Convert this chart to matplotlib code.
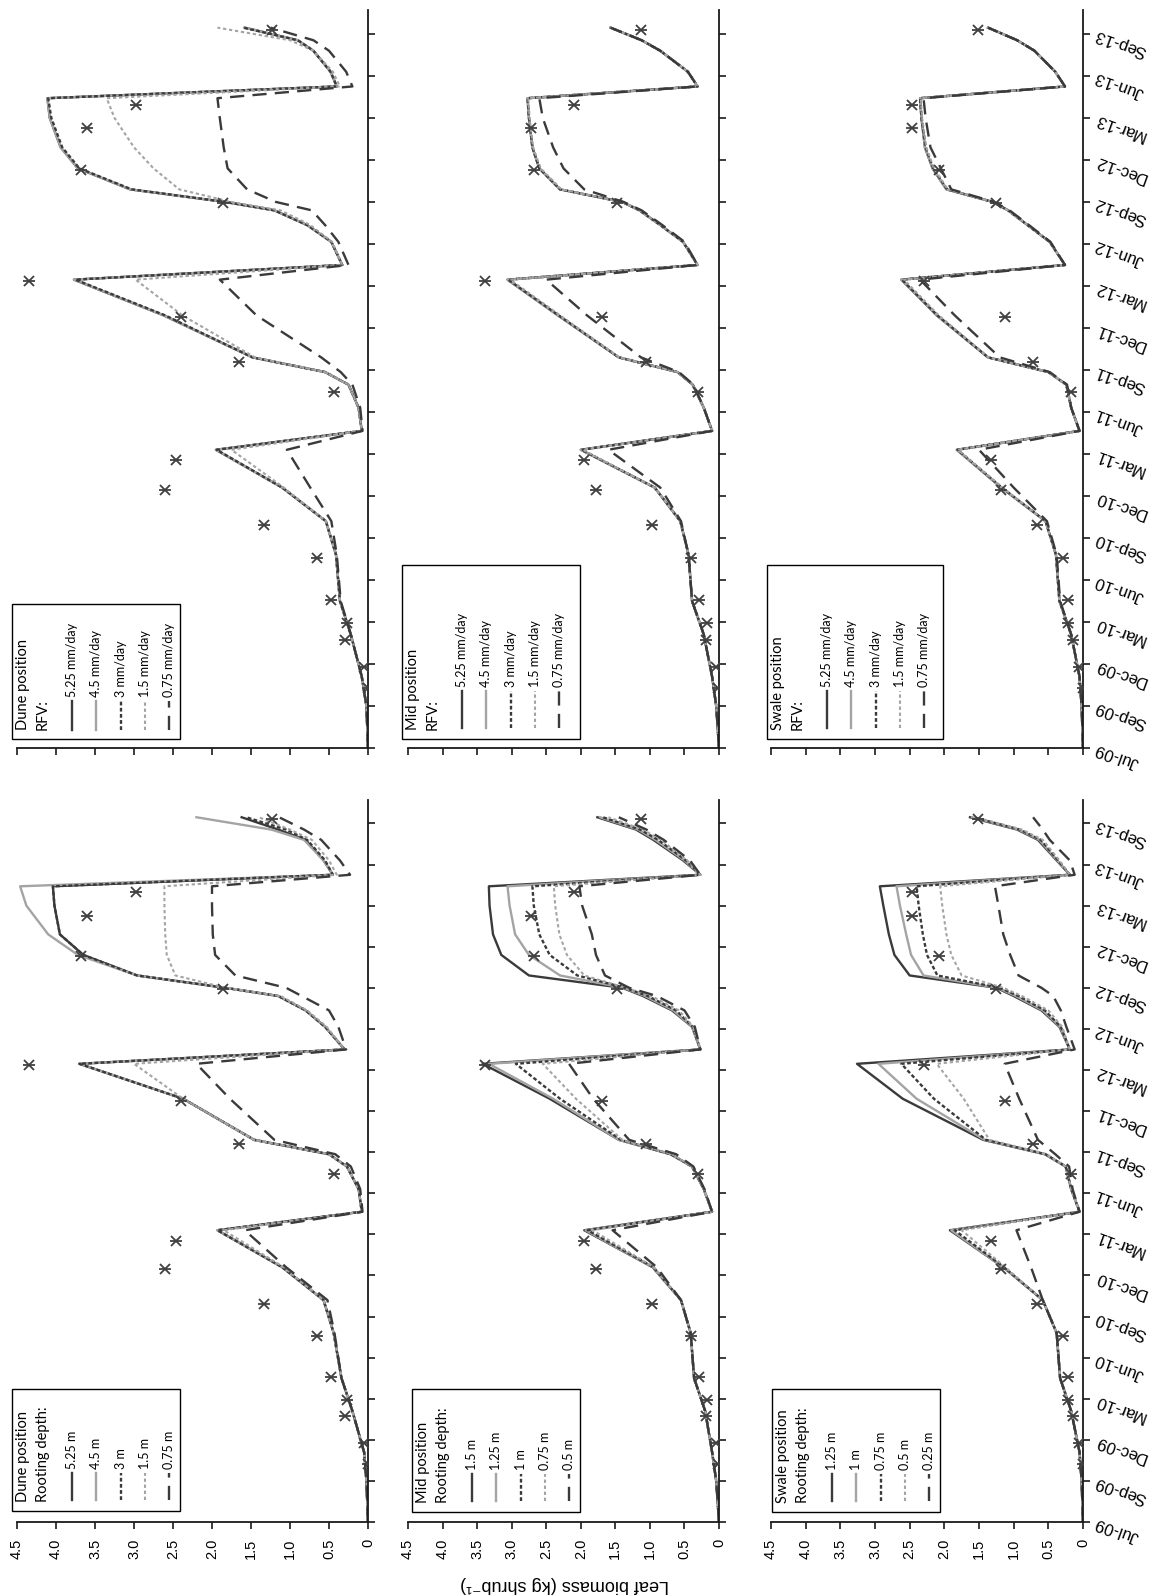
import matplotlib
matplotlib.use('Agg')
import matplotlib.pyplot as plt
from matplotlib.patches import Rectangle
from matplotlib.lines import Line2D

# ---------------- data ----------------
# time in quarter-tick units (0 = Jul-09 tick, 1 = Sep-09 tick, ... 17 = Sep-13 tick)
date_labels = ['Jul-09', 'Sep-09', 'Dec-09', 'Mar-10', 'Jun-10', 'Sep-10', 'Dec-10', 'Mar-11',
               'Jun-11', 'Sep-11', 'Dec-11', 'Mar-12', 'Jun-12', 'Sep-12', 'Dec-12', 'Mar-13',
               'Jun-13', 'Sep-13']
date_ticks = list(range(len(date_labels)))
value_ticks = [0, 0.5, 1.0, 1.5, 2.0, 2.5, 3.0, 3.5, 4.0, 4.5]
value_labels = ['0', '0.5', '1.0', '1.5', '2.0', '2.5', '3.0', '3.5', '4.0', '4.5']

T = [0.0, 1.0, 1.7, 2.7, 3.5, 4.6, 5.4, 6.2, 7.1, 7.55, 8.1, 8.65, 8.95, 9.3, 10.3, 11.15,
     11.5, 12.05, 12.45, 12.8, 13.0, 13.3, 13.8, 14.3, 15.0, 15.47, 15.75, 16.1, 16.6, 16.85, 17.15]

# Dune position, RFV
dune_rfv_525 = [0, 0.02, 0.08, 0.22, 0.36, 0.41, 0.54, 1.10, 1.95, 0.08, 0.12, 0.25, 0.55, 1.48, 2.62, 3.77,
                0.33, 0.47, 0.78, 1.20, 1.83, 3.05, 3.72, 3.94, 4.08, 4.11, 0.40, 0.48, 0.70, 0.90, 1.58]
dune_rfv_45 = [0, 0.02, 0.08, 0.22, 0.36, 0.41, 0.54, 1.10, 1.95, 0.08, 0.12, 0.25, 0.55, 1.48, 2.62, 3.77,
               0.33, 0.47, 0.78, 1.20, 1.83, 3.05, 3.72, 3.94, 4.08, 4.11, 0.40, 0.48, 0.70, 0.90, 1.58]
dune_rfv_3 = [0, 0.02, 0.08, 0.22, 0.36, 0.41, 0.54, 1.10, 1.94, 0.08, 0.12, 0.25, 0.55, 1.48, 2.60, 3.75,
              0.33, 0.47, 0.78, 1.20, 1.83, 3.03, 3.70, 3.92, 4.06, 4.10, 0.40, 0.48, 0.70, 0.90, 1.60]
dune_rfv_15 = [0, 0.02, 0.08, 0.22, 0.36, 0.41, 0.54, 1.08, 1.75, 0.08, 0.12, 0.25, 0.55, 1.45, 2.38, 2.98,
               0.33, 0.46, 0.74, 1.12, 1.75, 2.42, 2.75, 3.00, 3.25, 3.35, 0.36, 0.45, 0.70, 1.00, 1.93]
dune_rfv_075 = [0, 0.02, 0.08, 0.22, 0.35, 0.40, 0.47, 0.74, 1.04, 0.07, 0.10, 0.20, 0.35, 0.60, 1.43, 1.90,
                0.25, 0.38, 0.55, 0.72, 1.18, 1.55, 1.80, 1.85, 1.90, 1.93, 0.20, 0.28, 0.50, 0.70, 1.25]

# Dune position, rooting depth
dune_rd_525 = [0, 0.02, 0.05, 0.20, 0.34, 0.44, 0.57, 1.10, 1.93, 0.08, 0.12, 0.27, 0.50, 1.46, 2.37, 3.70,
               0.30, 0.55, 0.80, 1.15, 1.83, 2.96, 3.65, 3.95, 4.02, 4.04, 0.45, 0.57, 0.80, 1.15, 1.62]
dune_rd_45 = [0, 0.02, 0.05, 0.20, 0.34, 0.44, 0.57, 1.10, 1.93, 0.08, 0.12, 0.27, 0.50, 1.46, 2.37, 3.70,
              0.30, 0.55, 0.80, 1.15, 1.83, 2.96, 3.72, 4.10, 4.38, 4.46, 0.45, 0.57, 0.82, 1.24, 2.20]
dune_rd_3 = [0, 0.02, 0.05, 0.20, 0.34, 0.44, 0.57, 1.10, 1.93, 0.08, 0.12, 0.27, 0.50, 1.46, 2.37, 3.70,
             0.30, 0.55, 0.80, 1.15, 1.83, 2.96, 3.65, 3.95, 4.02, 4.04, 0.45, 0.55, 0.78, 1.05, 1.56]
dune_rd_15 = [0, 0.02, 0.05, 0.20, 0.34, 0.44, 0.57, 1.08, 1.85, 0.08, 0.12, 0.27, 0.50, 1.46, 2.37, 3.00,
              0.30, 0.53, 0.78, 1.12, 1.83, 2.47, 2.58, 2.60, 2.61, 2.61, 0.40, 0.50, 0.72, 1.00, 1.40]
dune_rd_075 = [0, 0.02, 0.05, 0.20, 0.34, 0.43, 0.52, 1.05, 1.58, 0.07, 0.10, 0.22, 0.42, 1.20, 1.77, 2.20,
               0.28, 0.38, 0.50, 0.85, 1.05, 1.70, 1.96, 1.99, 2.00, 2.00, 0.23, 0.36, 0.60, 0.82, 1.14]

# Mid position, RFV
mid_rfv_525 = [0, 0.04, 0.10, 0.22, 0.39, 0.44, 0.56, 0.93, 2.00, 0.10, 0.22, 0.38, 0.60, 1.45, 2.33, 3.06,
               0.31, 0.52, 0.85, 1.15, 1.40, 2.30, 2.60, 2.70, 2.75, 2.77, 0.31, 0.45, 0.85, 1.12, 1.57]
mid_rfv_45 = [0, 0.04, 0.10, 0.22, 0.39, 0.44, 0.56, 0.93, 2.00, 0.10, 0.22, 0.38, 0.60, 1.45, 2.33, 3.06,
              0.31, 0.52, 0.85, 1.15, 1.40, 2.30, 2.60, 2.70, 2.75, 2.77, 0.31, 0.45, 0.85, 1.12, 1.57]
mid_rfv_3 = [0, 0.04, 0.10, 0.22, 0.39, 0.44, 0.56, 0.93, 1.99, 0.10, 0.22, 0.38, 0.60, 1.45, 2.32, 3.05,
             0.31, 0.52, 0.85, 1.15, 1.40, 2.30, 2.60, 2.70, 2.75, 2.77, 0.31, 0.45, 0.85, 1.12, 1.57]
mid_rfv_15 = [0, 0.04, 0.10, 0.22, 0.39, 0.44, 0.56, 0.93, 1.97, 0.10, 0.22, 0.38, 0.60, 1.44, 2.30, 3.02,
              0.31, 0.52, 0.85, 1.15, 1.40, 2.28, 2.58, 2.69, 2.74, 2.76, 0.31, 0.45, 0.85, 1.12, 1.57]
mid_rfv_075 = [0, 0.04, 0.10, 0.22, 0.39, 0.44, 0.55, 0.85, 1.60, 0.10, 0.22, 0.37, 0.58, 1.13, 1.91, 2.50,
               0.31, 0.50, 0.82, 1.12, 1.38, 1.95, 2.25, 2.40, 2.55, 2.60, 0.31, 0.45, 0.85, 1.12, 1.57]

# Mid position, rooting depth
mid_rd_15 = [0, 0.04, 0.10, 0.20, 0.36, 0.41, 0.55, 0.96, 1.95, 0.10, 0.22, 0.39, 0.70, 1.45, 2.45, 3.42,
             0.27, 0.39, 0.68, 1.10, 1.40, 2.75, 3.15, 3.27, 3.32, 3.33, 0.27, 0.52, 0.95, 1.20, 1.76]
mid_rd_125 = [0, 0.04, 0.10, 0.20, 0.36, 0.41, 0.55, 0.96, 1.93, 0.10, 0.22, 0.39, 0.70, 1.45, 2.40, 3.33,
              0.27, 0.39, 0.66, 1.07, 1.38, 2.30, 2.75, 2.95, 3.03, 3.06, 0.27, 0.50, 0.92, 1.17, 1.72]
mid_rd_1 = [0, 0.04, 0.10, 0.20, 0.36, 0.41, 0.55, 0.95, 1.90, 0.10, 0.22, 0.39, 0.70, 1.42, 2.30, 2.94,
            0.27, 0.38, 0.62, 1.03, 1.36, 2.05, 2.45, 2.60, 2.68, 2.70, 0.27, 0.48, 0.88, 1.14, 1.68]
mid_rd_075 = [0, 0.04, 0.10, 0.20, 0.36, 0.41, 0.55, 0.94, 1.83, 0.10, 0.22, 0.39, 0.68, 1.40, 2.07, 2.55,
              0.27, 0.37, 0.58, 0.98, 1.35, 1.95, 2.20, 2.31, 2.37, 2.39, 0.27, 0.46, 0.84, 1.10, 1.60]
mid_rd_05 = [0, 0.04, 0.10, 0.20, 0.36, 0.41, 0.55, 0.90, 1.54, 0.10, 0.21, 0.37, 0.62, 1.30, 1.82, 2.17,
             0.27, 0.35, 0.50, 0.90, 1.30, 1.65, 1.78, 1.84, 1.98, 2.02, 0.27, 0.42, 0.80, 1.05, 1.45]

# Swale position, RFV
swale_rfv_525 = [0, 0.02, 0.05, 0.17, 0.34, 0.39, 0.54, 1.18, 1.82, 0.05, 0.17, 0.24, 0.50, 1.37, 2.11, 2.62,
                 0.26, 0.48, 0.80, 1.08, 1.30, 1.97, 2.17, 2.28, 2.33, 2.35, 0.26, 0.40, 0.70, 0.95, 1.37]
swale_rfv_45 = [0, 0.02, 0.05, 0.17, 0.34, 0.39, 0.54, 1.18, 1.82, 0.05, 0.17, 0.24, 0.50, 1.37, 2.11, 2.62,
                0.26, 0.48, 0.80, 1.08, 1.30, 1.97, 2.17, 2.28, 2.33, 2.35, 0.26, 0.40, 0.70, 0.95, 1.37]
swale_rfv_3 = [0, 0.02, 0.05, 0.17, 0.34, 0.39, 0.54, 1.17, 1.81, 0.05, 0.17, 0.24, 0.50, 1.37, 2.10, 2.61,
               0.26, 0.48, 0.80, 1.08, 1.30, 1.96, 2.16, 2.27, 2.33, 2.35, 0.26, 0.40, 0.70, 0.95, 1.37]
swale_rfv_15 = [0, 0.02, 0.05, 0.17, 0.34, 0.39, 0.54, 1.16, 1.80, 0.05, 0.17, 0.24, 0.50, 1.36, 2.08, 2.58,
                0.26, 0.48, 0.80, 1.08, 1.30, 1.95, 2.15, 2.26, 2.32, 2.34, 0.26, 0.40, 0.70, 0.95, 1.37]
swale_rfv_075 = [0, 0.02, 0.05, 0.17, 0.33, 0.38, 0.52, 1.00, 1.50, 0.05, 0.17, 0.23, 0.48, 1.20, 1.85, 2.35,
                 0.26, 0.47, 0.78, 1.06, 1.28, 1.90, 2.05, 2.20, 2.27, 2.30, 0.26, 0.40, 0.70, 0.95, 1.37]

# Swale position, rooting depth
swale_rd_125 = [0, 0.02, 0.05, 0.17, 0.33, 0.38, 0.58, 1.15, 1.92, 0.05, 0.17, 0.25, 0.55, 1.44, 2.60, 3.26,
                0.19, 0.34, 0.60, 1.00, 1.25, 2.50, 2.72, 2.80, 2.88, 2.93, 0.19, 0.38, 0.65, 0.95, 1.63]
swale_rd_1 = [0, 0.02, 0.05, 0.17, 0.33, 0.38, 0.58, 1.15, 1.90, 0.05, 0.17, 0.25, 0.55, 1.42, 2.40, 2.95,
              0.19, 0.33, 0.58, 0.97, 1.23, 2.30, 2.48, 2.55, 2.64, 2.69, 0.19, 0.37, 0.63, 0.93, 1.60]
swale_rd_075 = [0, 0.02, 0.05, 0.17, 0.33, 0.38, 0.58, 1.14, 1.85, 0.05, 0.17, 0.25, 0.54, 1.40, 2.15, 2.62,
                0.19, 0.32, 0.55, 0.93, 1.20, 2.10, 2.25, 2.31, 2.37, 2.40, 0.19, 0.36, 0.61, 0.91, 1.58]
swale_rd_05 = [0, 0.02, 0.05, 0.17, 0.33, 0.38, 0.58, 1.12, 1.75, 0.05, 0.17, 0.25, 0.52, 1.35, 1.72, 2.11,
               0.19, 0.30, 0.50, 0.88, 1.15, 1.75, 1.90, 1.97, 2.03, 2.06, 0.19, 0.34, 0.58, 0.88, 1.55]
swale_rd_025 = [0, 0.02, 0.05, 0.17, 0.33, 0.38, 0.58, 0.75, 0.96, 0.05, 0.15, 0.20, 0.40, 0.65, 0.92, 1.13,
                0.12, 0.24, 0.32, 0.43, 0.60, 0.93, 1.05, 1.15, 1.22, 1.27, 0.12, 0.19, 0.48, 0.58, 0.72]

# observations (same sampling dates at each position)
obs_t = [1.42, 1.92, 2.57, 2.97, 3.52, 4.52, 5.3, 6.15, 6.85, 8.47, 9.2, 10.25, 11.13, 12.97, 13.77,
         14.75, 15.32, 17.1]
obs_dune = [0.0, 0.05, 0.30, 0.27, 0.48, 0.66, 1.33, 2.60, 2.46, 0.43, 1.66, 2.40, 4.35, 1.86, 3.68,
            3.60, 2.98, 1.23]
obs_mid = [0.02, 0.05, 0.19, 0.17, 0.29, 0.41, 0.97, 1.78, 1.95, 0.31, 1.06, 1.69, 3.38, 1.47, 2.67,
           2.72, 2.10, 1.13]
obs_swale = [0.0, 0.06, 0.15, 0.22, 0.22, 0.29, 0.66, 1.18, 1.32, 0.17, 0.72, 1.13, 2.30, 1.25, 2.07,
             2.46, 2.46, 1.51]

positions = ['Dune position', 'Mid position', 'Swale position']
rfv_labels = ['5.25 mm/day', '4.5 mm/day', '3 mm/day', '1.5 mm/day', '0.75 mm/day']
rd_labels = {
    'Dune position': ['5.25 m', '4.5 m', '3 m', '1.5 m', '0.75 m'],
    'Mid position': ['1.5 m', '1.25 m', '1 m', '0.75 m', '0.5 m'],
    'Swale position': ['1.25 m', '1 m', '0.75 m', '0.5 m', '0.25 m'],
}
rfv_series = {
    'Dune position': [dune_rfv_525, dune_rfv_45, dune_rfv_3, dune_rfv_15, dune_rfv_075],
    'Mid position': [mid_rfv_525, mid_rfv_45, mid_rfv_3, mid_rfv_15, mid_rfv_075],
    'Swale position': [swale_rfv_525, swale_rfv_45, swale_rfv_3, swale_rfv_15, swale_rfv_075],
}
rd_series = {
    'Dune position': [dune_rd_525, dune_rd_45, dune_rd_3, dune_rd_15, dune_rd_075],
    'Mid position': [mid_rd_15, mid_rd_125, mid_rd_1, mid_rd_075, mid_rd_05],
    'Swale position': [swale_rd_125, swale_rd_1, swale_rd_075, swale_rd_05, swale_rd_025],
}
obs = {'Dune position': obs_dune, 'Mid position': obs_mid, 'Swale position': obs_swale}

# ---------------- styling / layout ----------------
W, H = 1163, 1596
DARK = '#3a3a3a'
LIGHT = '#a4a4a4'
styles = [
    dict(color=DARK, ls='-', lw=1.7),
    dict(color=LIGHT, ls='-', lw=1.7),
    dict(color=DARK, ls=(0, (1.6, 1.0)), lw=1.7),
    dict(color=LIGHT, ls=(0, (1.6, 1.3)), lw=1.5),
    dict(color=DARK, ls=(0, (6.0, 3.5)), lw=1.7),
]
TICKFONT = ['Liberation Sans', 'DejaVu Sans']
LEGFONT = ['Lato', 'DejaVu Sans']

fig = plt.figure(figsize=(W / 100, H / 100), dpi=100)
fig.patch.set_facecolor('white')

cols_px = [(17, 368), (408, 719), (771, 1083)]
rows_px = [(10, 748), (800, 1522)]   # top row = RFV, bottom row = rooting depth
TMAX = 17.57


def fx(x):
    return x / W


def fy(y):
    return 1 - y / H


def make_ax(ci, ri):
    x0, x1 = cols_px[ci]
    y0, y1 = rows_px[ri]
    ax = fig.add_axes([fx(x0), fy(y1), (x1 - x0) / W, (y1 - y0) / H])
    ax.set_xlim(4.5, 0)
    ax.set_ylim(0, TMAX)
    for s in ['top', 'left']:
        ax.spines[s].set_visible(False)
    for s in ['right', 'bottom']:
        ax.spines[s].set_linewidth(1.3)
        ax.spines[s].set_color('#1a1a1a')
    ax.yaxis.tick_right()
    ax.set_yticks(date_ticks)
    ax.set_xticks(value_ticks)
    ax.tick_params(direction='out', length=5, width=1.2, color='#1a1a1a')
    ax.tick_params(axis='x', pad=7)
    ax.tick_params(axis='y', pad=4)
    if ri == 1:
        ax.set_xticklabels(value_labels, rotation=90, fontsize=10.5, family=TICKFONT)
    else:
        ax.set_xticklabels([])
    if ci == 2:
        ax.set_yticklabels(date_labels, rotation=160, rotation_mode='anchor', ha='right', va='center',
                           fontsize=12, family=TICKFONT)
    else:
        ax.set_yticklabels([])
    ax.set_facecolor('none')
    return ax


def draw_panel(ax, series, obs_vals):
    for vals, st in zip(series, styles):
        ax.plot(vals, T, **st, solid_joinstyle='round')
    ax.plot(obs_vals, obs_t, ls='none', marker='x', ms=7, mew=1.3, color='#404040', zorder=5)
    ax.plot(obs_vals, obs_t, ls='none', marker='_', ms=8, mew=1.3, color='#404040', zorder=5)


def draw_legend(x0, x1, y0, y1, title, sub, labels, samp, text_off):
    fig.add_artist(Rectangle((fx(x0), fy(y1)), (x1 - x0) / W, (y1 - y0) / H, transform=fig.transFigure,
                             facecolor='white', edgecolor='black', lw=1.0, zorder=1))
    fig.text(fx(x0 + 11), fy(y1 - 9), title, rotation=90, rotation_mode='anchor', ha='left', va='center',
             fontsize=10.5, family=LEGFONT, color='black')
    fig.text(fx(x0 + 31), fy(y1 - 9), sub, rotation=90, rotation_mode='anchor', ha='left', va='center',
             fontsize=10.5, family=LEGFONT, color='black')
    for i, (lab, st) in enumerate(zip(labels, styles)):
        ex = x0 + 60 + 24.3 * i
        fig.add_artist(Line2D([fx(ex), fx(ex)], [fy(y1 - samp[0]), fy(y1 - samp[1])],
                              transform=fig.transFigure, zorder=2, **st))
        fig.text(fx(ex), fy(y1 - text_off), lab, rotation=90, rotation_mode='anchor', ha='left',
                 va='center', fontsize=9, family=LEGFONT, color='black')


for ci, pos in enumerate(positions):
    ax_top = make_ax(ci, 0)
    draw_panel(ax_top, rfv_series[pos], obs[pos])
    ax_bot = make_ax(ci, 1)
    draw_panel(ax_bot, rd_series[pos], obs[pos])

# legends (top row: RFV, bottom row: rooting depth)
rfv_boxes = [(12, 180, 604, 739), (402, 580, 565, 739), (767, 943, 565, 739)]
rd_boxes = [(12, 180, 1389, 1511), (412, 580, 1389, 1512), (772, 940, 1389, 1512)]
for ci, pos in enumerate(positions):
    bx = rfv_boxes[ci]
    if ci == 0:
        draw_legend(*bx, pos, 'RFV:', rfv_labels, (9, 38), 42)
    else:
        draw_legend(*bx, pos, 'RFV:', rfv_labels, (11, 48), 52)
    bx = rd_boxes[ci]
    draw_legend(*bx, pos, 'Rooting depth:', rd_labels[pos], (11, 38), 42)

fig.text(fx(565), fy(1585), 'Leaf biomass (kg shrub\u207b\u00b9)', rotation=180, ha='center', va='center',
         fontsize=13, family=TICKFONT, color='black')

fig.savefig('out.png', dpi=100, facecolor='white')
